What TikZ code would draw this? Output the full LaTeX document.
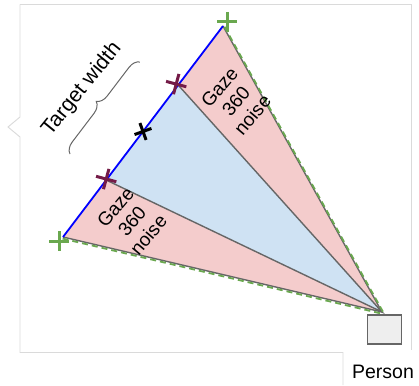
\documentclass[tikz,border=0pt]{standalone}
\usepackage{fontspec}
\setmainfont{Liberation Sans}
\usetikzlibrary{calc,decorations.pathreplacing}
\definecolor{pinkf}{HTML}{F4CCCC}
\definecolor{bluef}{HTML}{CFE2F3}
\definecolor{edgeg}{HTML}{666666}
\definecolor{greenx}{HTML}{6AA84F}
\definecolor{maroonx}{HTML}{741B47}
\definecolor{framec}{HTML}{DADADA}
\definecolor{boxf}{HTML}{EEEEEE}
\begin{document}
\begin{tikzpicture}[x=1pt,y=-1pt,
  edge/.style={draw=edgeg,line width=1.4pt},
  gdash/.style={draw=greenx,line width=1.8pt,dash pattern=on 6pt off 4pt},
  frameline/.style={draw=framec,line width=0.9pt},
  lbl/.style={font=\fontsize{19}{21.5}\selectfont,align=center,inner sep=0pt},
  xmark/.pic={\draw[line width=3pt] (-10,0)--(10,0) (0,-10)--(0,10);}]
\useasboundingbox (0,0) rectangle (419,385);
% frame
\draw[frameline] (20,4.5) -- (411.5,4.5) -- (411.5,350);
\draw[frameline] (20,4.5) -- (20,117) -- (8,127) -- (20,137) -- (20,352.5) -- (343,352.5) -- (343,385);
% key points
\coordinate (A) at (223,26);
\coordinate (B) at (63,237);
\coordinate (P) at (382,312);
\coordinate (M1) at ($(B)!0.72!(A)$);
\coordinate (M2) at ($(B)!0.27!(A)$);
\coordinate (X) at ($(B)!0.5!(A)$);
% fills
\fill[pinkf] (P) -- (A) -- (M1) -- cycle;
\fill[bluef] (P) -- (M1) -- (M2) -- cycle;
\fill[pinkf] (P) -- (M2) -- (B) -- cycle;
% gray edges
\draw[edge] (A) -- (P) -- (B);
\draw[edge] (M1) -- (P) -- (M2);
% blue target line
\draw[blue,line width=1.8pt] (B) -- (A);
% green dashed
\draw[gdash] ($(A)+(1.5,0.8)$) -- ($(P)+(1.5,0.8)$);
\draw[gdash] ($(B)+(-0.4,1.6)$) -- ($(P)+(-0.4,1.6)$);
% crosses
\pic[greenx] at (227,22) {xmark};
\pic[greenx] at (59,241) {xmark};
\pic[maroonx,rotate=-15,scale=1.05] at ($(M1)+(-2,-1)$) {xmark};
\pic[maroonx,rotate=-15,scale=1.05] at ($(M2)+(0,-1)$) {xmark};
\pic[black,rotate=20,scale=0.9] at (X) {xmark};
% person
\node[draw=edgeg,fill=boxf,line width=1.5pt,minimum width=34pt,minimum height=29pt,inner sep=0pt] (person) at (384.5,329.5) {};
\node[lbl,font=\fontsize{19.5}{22}\selectfont,anchor=center] (personlbl) at (383,372) {Person};
% labels
\node[lbl,rotate=50] (g1) at (236,101) {Gaze\\360\\noise};
\node[lbl,rotate=50] (g2) at (132,221) {Gaze\\360\\noise};
\node[lbl,font=\fontsize{21}{24}\selectfont,rotate=51] (tw) at (82,89) {Target width};
\draw[edgeg,line width=1pt,decorate,decoration={brace,amplitude=11pt}] (70,154) -- (140,62);
\end{tikzpicture}
\end{document}
